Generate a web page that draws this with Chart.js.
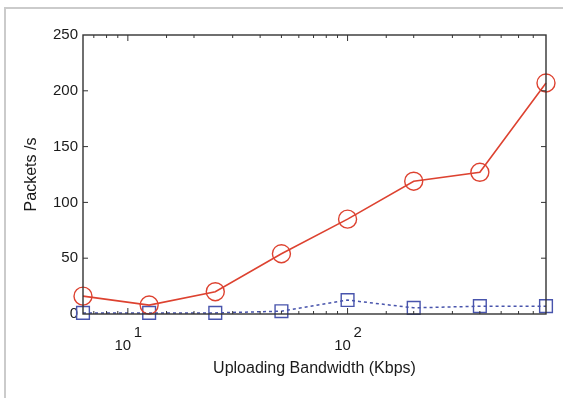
<!DOCTYPE html>
<html>
<head>
<meta charset="utf-8">
<script src="https://cdn.jsdelivr.net/npm/chart.js@4/dist/chart.umd.min.js"></script>
<style>
  html, body { margin: 0; padding: 0; background: #fff; }
  #wrap { position: relative; width: 563px; height: 398px; }
  #frame {
    position: absolute; left: 4px; top: 7px; right: 0; bottom: 0;
    border-top: 2px solid #cbcbcb; border-left: 2px solid #cbcbcb;
  }
  canvas { position: absolute; left: 0; top: 0; }
</style>
</head>
<body>
<div id="wrap">
  <div id="frame"></div>
  <canvas id="chart" width="563" height="398"></canvas>
</div>
<script>
const bandwidth = [6.25, 12.5, 25, 50, 100, 200, 400, 800];
const packetsRed = [16, 8, 20, 54, 85, 119, 127, 207];
const packetsBlue = [1, 1, 1, 2.5, 12.5, 5.5, 7, 7];
const yTicks = [0, 50, 100, 150, 200, 250];
const xDecades = [{ base: '10', exp: '1', value: 10 }, { base: '10', exp: '2', value: 100 }];

const RED = 'rgb(221, 66, 48)';
const BLUE = 'rgb(72, 84, 172)';
const AXIS = '#333';
const TEXT = '#1a1a1a';
const FONT = '"Liberation Sans", Arial, sans-serif';

// box round the plot with inward ticks, and 10^n labels under the x axis
const frameAndTicks = {
  id: 'frameAndTicks',
  afterDraw(chart) {
    const { ctx, chartArea: a, scales: { x, y } } = chart;
    ctx.save();
    ctx.strokeStyle = AXIS;
    ctx.lineWidth = 1.4;
    ctx.strokeRect(a.left, a.top, a.right - a.left, a.bottom - a.top);

    ctx.lineWidth = 1;
    x.ticks.forEach((t) => {
      if (t.value <= x.min || t.value >= x.max) return;
      const px = x.getPixelForValue(t.value);
      const len = xDecades.some((d) => d.value === t.value) ? 6 : 3;
      ctx.beginPath();
      ctx.moveTo(px, a.bottom); ctx.lineTo(px, a.bottom - len);
      ctx.moveTo(px, a.top); ctx.lineTo(px, a.top + len);
      ctx.stroke();
    });
    yTicks.forEach((v) => {
      if (v <= y.min || v >= y.max) return;
      const py = y.getPixelForValue(v);
      ctx.beginPath();
      ctx.moveTo(a.left, py); ctx.lineTo(a.left + 5, py);
      ctx.moveTo(a.right, py); ctx.lineTo(a.right - 5, py);
      ctx.stroke();
    });

    ctx.fillStyle = TEXT;
    ctx.textBaseline = 'middle';
    xDecades.forEach((d) => {
      const px = x.getPixelForValue(d.value);
      ctx.font = '15px ' + FONT;
      ctx.textAlign = 'center';
      ctx.fillText(d.base, px - 5, a.bottom + 32);
      ctx.fillText(d.exp, px + 10, a.bottom + 19);
    });
    ctx.restore();
  }
};

new Chart(document.getElementById('chart'), {
  type: 'line',
  data: {
    datasets: [
      {
        label: 'red',
        data: bandwidth.map((b, i) => ({ x: b, y: packetsRed[i] })),
        borderColor: RED,
        borderWidth: 1.6,
        pointStyle: 'circle',
        pointRadius: 9,
        pointBorderWidth: 1.4,
        pointBorderColor: RED,
        pointBackgroundColor: 'rgba(0,0,0,0)',
        fill: false,
        tension: 0
      },
      {
        label: 'blue',
        data: bandwidth.map((b, i) => ({ x: b, y: packetsBlue[i] })),
        borderColor: BLUE,
        borderWidth: 1.5,
        borderDash: [3, 3],
        pointStyle: 'rect',
        pointRadius: 9,
        pointBorderWidth: 1.4,
        pointBorderColor: BLUE,
        pointBackgroundColor: 'rgba(0,0,0,0)',
        fill: false,
        tension: 0
      }
    ]
  },
  options: {
    responsive: false,
    animation: false,
    clip: false,
    layout: { padding: { left: 22, top: 35, right: 17, bottom: 20 } },
    plugins: { legend: { display: false }, tooltip: { enabled: false } },
    scales: {
      x: {
        type: 'logarithmic',
        min: 6.25,
        max: 800,
        grid: { display: false },
        border: { display: false },
        ticks: { display: false },
        title: {
          display: true,
          text: 'Uploading Bandwidth (Kbps)',
          color: TEXT,
          font: { family: FONT, size: 16 },
          padding: { top: 0, bottom: 0 }
        },
        afterFit: (s) => { s.height = 64; }
      },
      y: {
        min: 0,
        max: 250,
        afterBuildTicks: (s) => { s.ticks = yTicks.map((v) => ({ value: v })); },
        grid: { display: false, drawTicks: false },
        border: { display: false },
        ticks: {
          color: TEXT,
          padding: 5,
          font: { family: FONT, size: 15 }
        },
        title: {
          display: true,
          text: 'Packets /s',
          color: TEXT,
          font: { family: FONT, size: 16 },
          padding: { top: 0, bottom: 0 }
        },
        afterFit: (s) => { s.width = 61; }
      }
    }
  },
  plugins: [frameAndTicks]
});
</script>
</body>
</html>
